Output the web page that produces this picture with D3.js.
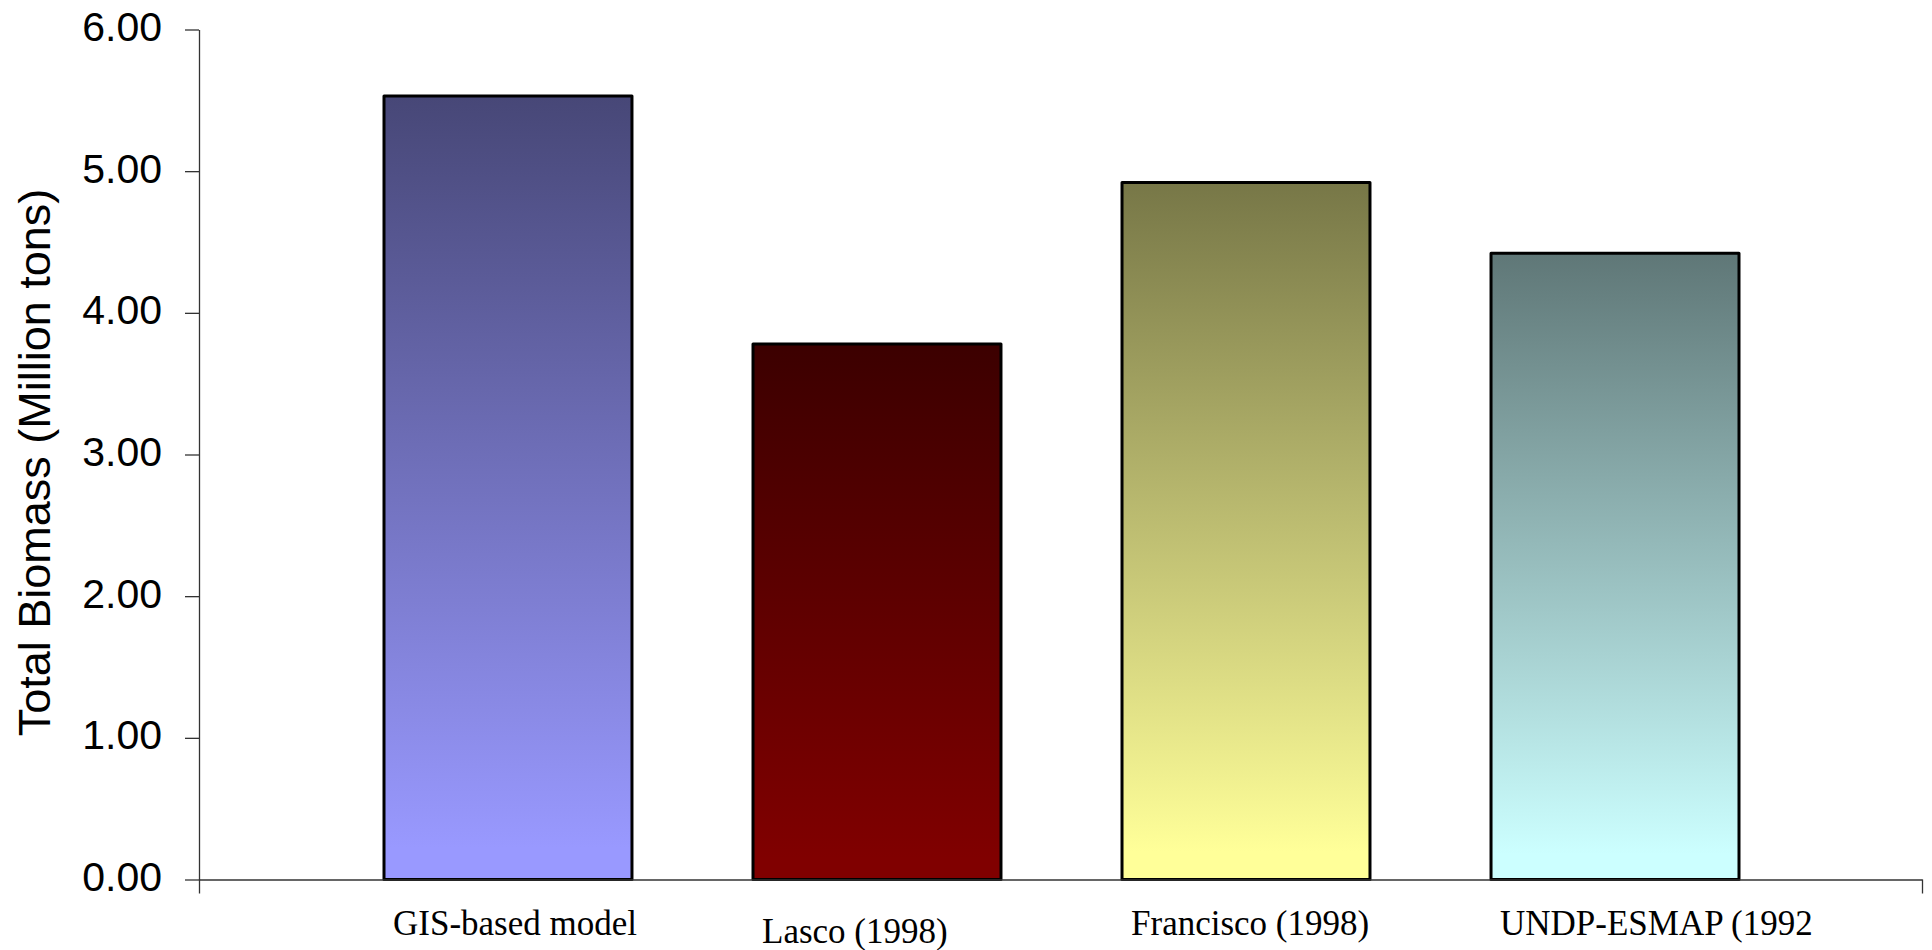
<!DOCTYPE html>
<html>
<head>
<meta charset="utf-8">
<script src="https://cdn.jsdelivr.net/npm/d3@7"></script>
<style>
  html, body { margin: 0; padding: 0; background: #ffffff; }
  svg { display: block; }
</style>
</head>
<body>
<svg id="chart" width="1932" height="950"></svg>
<script>
// Total biomass estimates by source (million tons)
const categories = ["GIS-based model", "Lasco (1998)", "Francisco (1998)", "UNDP-ESMAP (1992"];
const biomass = [5.53, 3.78, 4.92, 4.42];
const baseColors = ["#9999ff", "#800000", "#ffff99", "#ccffff"];
const yTicks = [0, 1, 2, 3, 4, 5, 6];
const yTitle = "Total Biomass (Million tons)";

const svg = d3.select("#chart");

// plot frame
const axisX = 199, axisRight = 1922;
const y = d3.scaleLinear().domain([0, 6]).range([879.5, 29.5]);
const x = d3.scaleBand().domain(categories).range([384, 1739])
  .paddingInner(0.328).paddingOuter(0);

// vertical gradients: darkened shade at the top fading to the base colour at the bottom
const defs = svg.append("defs");
baseColors.forEach((c, i) => {
  const base = d3.rgb(c);
  const dark = d3.rgb(base.r * 0.465, base.g * 0.465, base.b * 0.465);
  const g = defs.append("linearGradient")
    .attr("id", "barGrad" + i)
    .attr("x1", 0).attr("y1", 0).attr("x2", 0).attr("y2", 1);
  g.append("stop").attr("offset", "0%").attr("stop-color", dark.formatHex());
  g.append("stop").attr("offset", "96%").attr("stop-color", base.formatHex());
  g.append("stop").attr("offset", "100%").attr("stop-color", base.formatHex());
});

// bars
svg.append("g").selectAll("rect")
  .data(categories)
  .join("rect")
  .attr("x", d => x(d))
  .attr("y", (d, i) => y(biomass[i]))
  .attr("width", x.bandwidth())
  .attr("height", (d, i) => y(0) - y(biomass[i]))
  .attr("fill", (d, i) => `url(#barGrad${i})`)
  .attr("stroke", "#000")
  .attr("stroke-width", 3)
  .attr("stroke-linejoin", "round");

// value axis
const yAxis = d3.axisLeft(y)
  .tickValues(yTicks)
  .tickFormat(d3.format(".2f"))
  .tickSize(14)
  .tickSizeOuter(0)
  .tickPadding(23);

const yg = svg.append("g")
  .attr("transform", `translate(${axisX},0)`)
  .call(yAxis);
yg.select(".domain").attr("stroke", "#333").attr("stroke-width", 1.3);
yg.selectAll(".tick line").attr("stroke", "#333").attr("stroke-width", 1.3);
yg.selectAll(".tick text")
  .attr("font-family", "'Liberation Sans', Arial, sans-serif")
  .attr("font-size", 41)
  .attr("fill", "#000")
  .attr("dy", "0.27em");

// category axis: baseline with end ticks
const xAxisScale = d3.scaleLinear().domain([0, 1]).range([axisX, axisRight]);
const xg = svg.append("g")
  .attr("transform", `translate(0,${y(0)})`)
  .call(d3.axisBottom(xAxisScale).tickValues([0, 1]).tickFormat("").tickSize(14).tickSizeOuter(0));
xg.select(".domain").attr("stroke", "#333").attr("stroke-width", 1.3);
xg.selectAll(".tick line").attr("stroke", "#333").attr("stroke-width", 1.3);

// category labels, set under the left part of each bar
const labelNudge = { "Lasco (1998)": 8 };
svg.append("g").selectAll("text")
  .data(categories)
  .join("text")
  .attr("x", d => x(d) + 9)
  .attr("y", d => 935 + (labelNudge[d] || 0))
  .attr("font-family", "'Liberation Serif', 'Times New Roman', serif")
  .attr("font-size", 35)
  .attr("fill", "#000")
  .text(d => d);

// value axis title
svg.append("text")
  .attr("transform", `translate(50,${(y(0) + y(6)) / 2 + 8}) rotate(-90)`)
  .attr("text-anchor", "middle")
  .attr("font-family", "'Liberation Sans', Arial, sans-serif")
  .attr("font-size", 45)
  .attr("fill", "#000")
  .text(yTitle);
</script>
</body>
</html>
